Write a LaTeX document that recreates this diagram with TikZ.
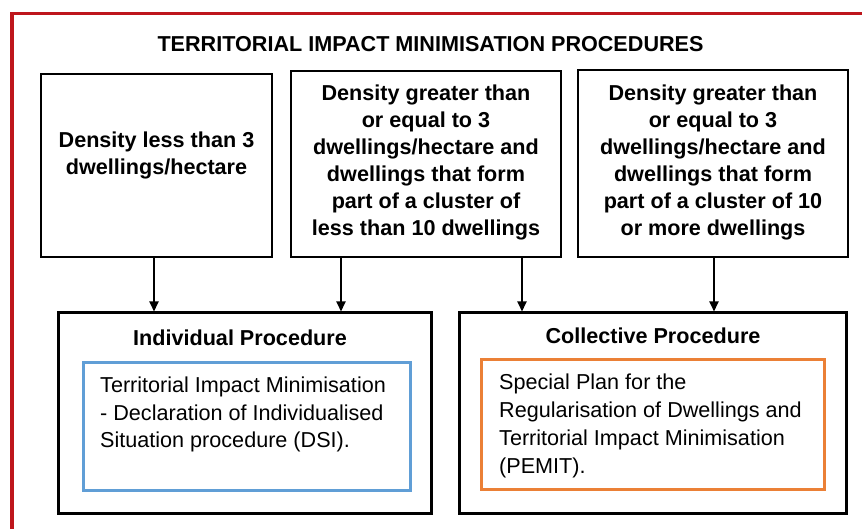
\documentclass[tikz,border=0pt]{standalone}
\usepackage{fontspec}
\setmainfont{Liberation Sans}
\usetikzlibrary{arrows.meta}
\definecolor{framered}{RGB}{190,22,28}
\definecolor{inblue}{RGB}{96,158,214}
\definecolor{inorange}{RGB}{235,128,54}
\begin{document}
\begin{tikzpicture}[x=1pt,y=-1pt,
  topbox/.style={draw=black,line width=2.4pt,inner sep=0pt},
  procbox/.style={draw=black,line width=3pt,inner sep=0pt},
  bluebox/.style={draw=inblue,line width=3pt,inner sep=0pt},
  orangebox/.style={draw=inorange,line width=3pt,inner sep=0pt},
  btxt/.style={inner sep=0pt,align=center,font=\fontsize{21.6}{27}\selectfont\bfseries},
  ntxt/.style={inner sep=0pt,align=left,font=\fontsize{21.6}{27.8}\selectfont},
  arr/.style={draw=black,line width=1.8pt,-{Triangle[width=9pt,length=10pt]}}]
\useasboundingbox (0,0) rectangle (862,529);
\fill[white] (0,0) rectangle (862,529);
% red frame
\draw[framered,line width=3.5pt] (12,529) -- (12,13.5) -- (862,13.5);
% title
\node[btxt] (title) at (430.5,44) {TERRITORIAL IMPACT MINIMISATION PROCEDURES};
% top boxes
\node[topbox,minimum width=231pt,minimum height=183pt] (b1) at (156.5,165.5) {};
\node[topbox,minimum width=270pt,minimum height=186pt] (b2) at (426,164) {};
\node[topbox,minimum width=270pt,minimum height=187pt] (b3) at (713,163.5) {};
\node[btxt,anchor=north] (t1) at (156.5,132) {Density less than 3\\dwellings/hectare};
\node[btxt,anchor=north] (t2) at (426,85) {Density greater than\\or equal to 3\\dwellings/hectare and\\dwellings that form\\part of a cluster of\\less than 10 dwellings};
\node[btxt,anchor=north] (t3) at (713,85) {Density greater than\\or equal to 3\\dwellings/hectare and\\dwellings that form\\part of a cluster of 10\\or more dwellings};
% procedure boxes
\node[procbox,minimum width=373pt,minimum height=200pt] (ind) at (244.5,413) {};
\node[procbox,minimum width=387pt,minimum height=200pt] (col) at (652.5,413) {};
\node[btxt,anchor=base] (indl) at (240,345.7) {Individual Procedure};
\node[btxt,anchor=base] (coll) at (653,343.7) {Collective Procedure};
\node[bluebox,minimum width=327pt,minimum height=128pt] (blue) at (246.5,426) {};
\node[orangebox,minimum width=343pt,minimum height=130pt] (orange) at (652.5,424) {};
\node[ntxt,anchor=north west] (d1) at (100,376.5) {Territorial Impact Minimisation\\- Declaration of Individualised\\Situation procedure (DSI).};
\node[ntxt,anchor=north west] (d2) at (499,374) {Special Plan for the\\Regularisation of Dwellings and\\Territorial Impact Minimisation\\(PEMIT).};
% arrows
\coordinate (xa) at (154,0);
\coordinate (xb) at (341,0);
\coordinate (xc) at (522,0);
\coordinate (xd) at (714,0);
\draw[arr] (b1.south -| xa) -- (ind.north -| xa);
\draw[arr] (b2.south -| xb) -- (ind.north -| xb);
\draw[arr] (b2.south -| xc) -- (col.north -| xc);
\draw[arr] (b3.south -| xd) -- (col.north -| xd);
\end{tikzpicture}
\end{document}
